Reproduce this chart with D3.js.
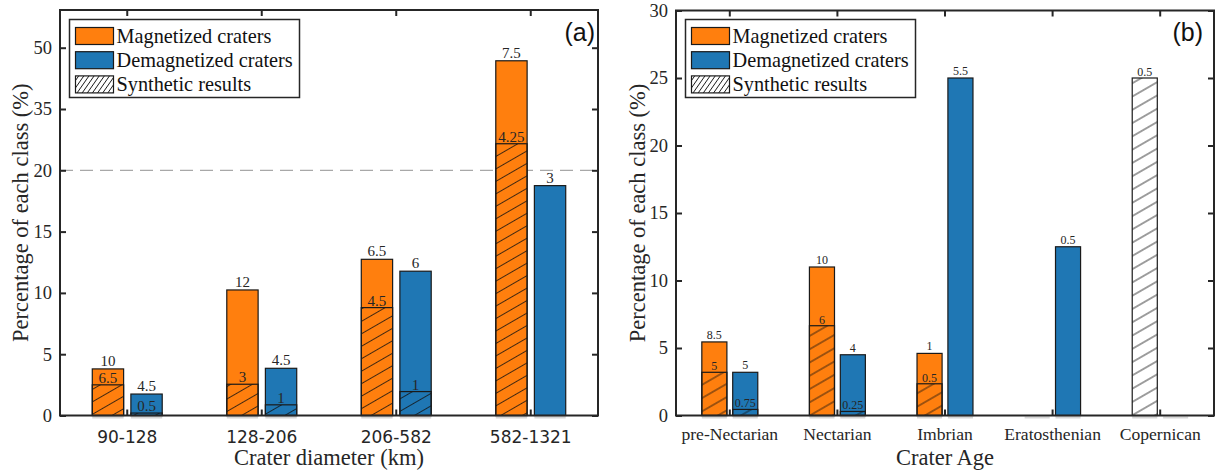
<!DOCTYPE html>
<html>
<head>
<meta charset="utf-8">
<script src="https://cdn.jsdelivr.net/npm/d3@7"></script>
<style>
body{margin:0;background:#fff}
</style>
</head>
<body>
<svg id="chart" width="1215" height="471"></svg>
<script>
// panel (a): crater diameter
const diamCats = ["90-128", "128-206", "206-582", "582-1321"];
const diamMag = [3.8, 10.24, 12.74, 46.8];
const diamMagSyn = [2.5, 2.55, 8.8, 26.5];
const diamDem = [1.75, 3.85, 11.77, 18.75];
const diamDemSyn = [0.2, 0.87, 1.95, 0];
const diamMagLbl = ["10", "12", "6.5", "7.5"];
const diamMagSynLbl = ["6.5", "3", "4.5", "4.25"];
const diamDemLbl = ["4.5", "4.5", "6", "3"];
const diamDemSynLbl = ["0.5", "1", "1", ""];
const diamTicks = [0, 5, 10, 15, 20, 35, 50];

// panel (b): crater age
const ageCats = ["pre-Nectarian", "Nectarian", "Imbrian", "Eratosthenian", "Copernican"];
const ageMag = [5.45, 11.0, 4.6, 0, 0];
const ageMagSyn = [3.2, 6.65, 2.35, 0, 25];
const ageDem = [3.2, 4.5, 25, 12.5, 0];
const ageDemSyn = [0.45, 0.3, 0, 0, 0];
const ageMagLbl = ["8.5", "10", "1", "", ""];
const ageMagSynLbl = ["5", "6", "0.5", "", "0.5"];
const ageDemLbl = ["5", "4", "5.5", "0.5", ""];
const ageDemSynLbl = ["0.75", "0.25", "", "", ""];
const ageTicks = [0, 5, 10, 15, 20, 25, 30];

const legendNames = ["Magnetized craters", "Demagnetized craters", "Synthetic results"];

const ORANGE = "#ff7f0e", BLUE = "#1f77b4", INK = "#262626";
const SERIF = "'Liberation Serif', 'Times New Roman', serif";

const svg = d3.select("#chart");
svg.append("rect").attr("width", 1215).attr("height", 471).attr("fill", "#fff");
const defs = svg.append("defs");

//hatch pattern, lines rising to the right
function hatch(id, gap, angle){
    let p = defs.append("pattern").attr("id", id)
        .attr("patternUnits", "userSpaceOnUse")
        .attr("width", gap).attr("height", gap)
        .attr("patternTransform", "rotate(" + angle + ")");
    p.append("line").attr("x1", 0).attr("x2", gap)
        .attr("y1", gap / 2).attr("y2", gap / 2)
        .attr("stroke", "#111").attr("stroke-width", 0.8);
}
hatch("hatchA", 10.8, -30);
hatch("hatchB", 11.5, -30);
hatch("hatchLeg", 4.2, -55);

function drawPanel(o){
    let g = svg.append("g");
    let x = d3.scaleBand().domain(o.cats).range([o.x0, o.x1]).padding(0);
    let bw = x.bandwidth();
    let barW = bw * 0.233, off = bw * 0.1435;
    let y = o.y;
    let yb = y(0);

    //dashed break line
    if(o.dash !== undefined){
        g.append("line").attr("x1", o.x0).attr("x2", o.x1)
            .attr("y1", y(o.dash)).attr("y2", y(o.dash))
            .attr("stroke", "#a8a8a8").attr("stroke-width", 1.2)
            .attr("stroke-dasharray", "13,7");
    }

    let series = [
        {vals: o.mag, syn: o.magSyn, lbl: o.magLbl, synLbl: o.magSynLbl, color: ORANGE, dx: -off},
        {vals: o.dem, syn: o.demSyn, lbl: o.demLbl, synLbl: o.demSynLbl, color: BLUE, dx: off}
    ];

    series.forEach(s => {
        o.cats.forEach((c, i) => {
            let cx = x(c) + bw / 2 + s.dx;
            //faint baseline shadow
            g.append("line").attr("x1", cx - barW / 2).attr("x2", cx + barW / 2)
                .attr("y1", yb + 2).attr("y2", yb + 2)
                .attr("stroke", "#d6d6d6").attr("stroke-width", 2);
            if(s.vals[i] > 0){
                g.append("rect").attr("x", cx - barW / 2).attr("width", barW)
                    .attr("y", y(s.vals[i])).attr("height", yb - y(s.vals[i]))
                    .attr("fill", s.color).attr("stroke", "#1a1a1a").attr("stroke-width", 1.2);
            }
            if(s.syn[i] > 0){
                g.append("rect").attr("x", cx - barW / 2).attr("width", barW)
                    .attr("y", y(s.syn[i])).attr("height", yb - y(s.syn[i]))
                    .attr("fill", "url(#" + o.hatch + ")").attr("stroke", "#1a1a1a").attr("stroke-width", 1.2);
            }
            if(s.lbl[i]){
                g.append("text").attr("x", cx).attr("y", y(s.vals[i]) - 3)
                    .attr("text-anchor", "middle").attr("font-family", SERIF)
                    .attr("font-size", o.lblSize).attr("fill", INK).text(s.lbl[i]);
            }
            if(s.synLbl[i]){
                g.append("text").attr("x", cx).attr("y", y(s.syn[i]) - 2)
                    .attr("text-anchor", "middle").attr("font-family", SERIF)
                    .attr("font-size", o.lblSize).attr("fill", INK).text(s.synLbl[i]);
            }
        });
    });

    //box
    g.append("rect").attr("x", o.x0).attr("y", o.yTop)
        .attr("width", o.x1 - o.x0).attr("height", yb - o.yTop)
        .attr("fill", "none").attr("stroke", INK).attr("stroke-width", 2);

    //axes
    let yl = g.append("g").attr("transform", "translate(" + o.x0 + ",0)")
        .call(d3.axisLeft(y).tickValues(o.ticks).tickSize(-6).tickPadding(8));
    yl.selectAll("text").attr("font-family", SERIF).attr("font-size", 18.5).attr("fill", INK);
    g.append("g").attr("transform", "translate(" + o.x1 + ",0)")
        .call(d3.axisRight(y).tickValues(o.ticks).tickSize(-6).tickFormat(""));
    let xb = g.append("g").attr("transform", "translate(0," + yb + ")")
        .call(d3.axisBottom(x).tickSize(-6).tickPadding(o.xPad));
    xb.selectAll("text").attr("font-family", o.xFont).attr("font-size", o.xSize).attr("fill", INK);
    g.append("g").attr("transform", "translate(0," + o.yTop + ")")
        .call(d3.axisTop(x).tickSize(-6).tickFormat(""));
    g.selectAll(".domain").remove();
    g.selectAll(".tick line").attr("stroke", INK).attr("stroke-width", 2);

    //titles
    let cy = (o.yTop + yb) / 2;
    g.append("text").attr("transform", "translate(" + o.ytX + "," + cy + ") rotate(-90)")
        .attr("text-anchor", "middle").attr("dominant-baseline", "middle")
        .attr("font-family", SERIF).attr("font-size", 22.5).attr("fill", INK)
        .text("Percentage of each class (%)");
    g.append("text").attr("x", (o.x0 + o.x1) / 2).attr("y", 465)
        .attr("text-anchor", "middle").attr("font-family", SERIF)
        .attr("font-size", 22.5).attr("fill", INK).text(o.xTitle);
    g.append("text").attr("x", o.tagX).attr("y", 41).attr("text-anchor", "end")
        .attr("font-family", "'Liberation Sans', Arial, sans-serif")
        .attr("font-size", 25).attr("fill", "#111").text(o.tag);

    //legend
    let lg = g.append("g").attr("transform", "translate(" + (o.x0 + 9.5) + ",19.5)");
    lg.append("rect").attr("width", 230).attr("height", 78)
        .attr("fill", "#fff").attr("stroke", INK).attr("stroke-width", 1.5);
    let fills = [ORANGE, BLUE, "url(#hatchLeg)"];
    legendNames.forEach((n, i) => {
        let ry = 8 + i * 24.2;
        if(i === 2){
            lg.append("rect").attr("x", 6).attr("y", ry).attr("width", 38).attr("height", 17)
                .attr("fill", "#fff");
        }
        lg.append("rect").attr("x", 6).attr("y", ry).attr("width", 38).attr("height", 17)
            .attr("fill", fills[i]).attr("stroke", "#1a1a1a").attr("stroke-width", 1.2);
        lg.append("text").attr("x", 47).attr("y", ry + 8.5)
            .attr("dominant-baseline", "central").attr("font-family", SERIF)
            .attr("font-size", 20.3).attr("fill", "#111").text(n);
    });
}

//broken axis: 0-20 then 20-50 compressed
const yA = d3.scaleLinear().domain([0, 20, 50]).range([415.5, 170.3, 47.7]);
const yB = d3.scaleLinear().domain([0, 30]).range([415.5, 10.5]);

drawPanel({
    x0: 60, x1: 598, yTop: 10, y: yA, ticks: diamTicks, dash: 20,
    cats: diamCats, mag: diamMag, magSyn: diamMagSyn, dem: diamDem, demSyn: diamDemSyn,
    magLbl: diamMagLbl, magSynLbl: diamMagSynLbl, demLbl: diamDemLbl, demSynLbl: diamDemSynLbl,
    hatch: "hatchA", lblSize: 15, xFont: "'DejaVu Sans', sans-serif", xSize: 17, xPad: 15,
    ytX: 23, xTitle: "Crater diameter (km)", tag: "(a)", tagX: 595
});

drawPanel({
    x0: 676, x1: 1214, yTop: 10.5, y: yB, ticks: ageTicks,
    cats: ageCats, mag: ageMag, magSyn: ageMagSyn, dem: ageDem, demSyn: ageDemSyn,
    magLbl: ageMagLbl, magSynLbl: ageMagSynLbl, demLbl: ageDemLbl, demSynLbl: ageDemSynLbl,
    hatch: "hatchB", lblSize: 12, xFont: SERIF, xSize: 17.6, xPad: 12,
    ytX: 640, xTitle: "Crater Age", tag: "(b)", tagX: 1203
});
</script>
</body>
</html>
